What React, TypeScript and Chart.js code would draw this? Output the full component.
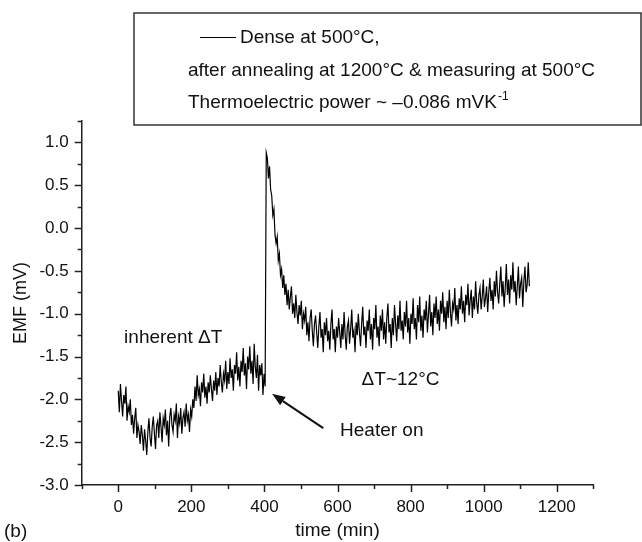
import React, { useEffect, useRef } from 'react';
import { Chart, registerables } from 'chart.js';

Chart.register(...registerables);

const FONT = '"Liberation Sans", Arial, Helvetica, sans-serif';

// EMF readings (mV), one every SAMPLE_STEP_MIN minutes starting at t = 0
const SAMPLE_STEP_MIN = 3;
const emfValues: number[] = [
  -1.90, -2.15, -1.82, -2.02, -2.20, -1.95, -2.05, -1.85, -2.25, -2.08,
  -2.15, -2.00, -2.30, -2.18, -2.40, -2.22, -2.10, -2.45, -2.30, -2.38,
  -2.52, -2.30, -2.42, -2.60, -2.35, -2.48, -2.65, -2.38, -2.22, -2.45,
  -2.55, -2.32, -2.20, -2.40, -2.58, -2.30, -2.25, -2.45, -2.15, -2.32,
  -2.50, -2.22, -2.30, -2.12, -2.42, -2.25, -2.55, -2.20, -2.10, -2.30,
  -2.38, -2.18, -2.25, -2.05, -2.45, -2.20, -2.28, -2.10, -2.40, -2.22,
  -2.15, -2.32, -2.05, -2.25, -2.18, -2.38, -2.12, -2.20, -2.00, -2.10,
  -1.85, -2.02, -1.72, -1.95, -1.88, -2.08, -1.80, -1.92, -1.70, -1.98,
  -1.85, -2.05, -1.80, -1.92, -1.72, -1.88, -2.02, -1.78, -1.90, -1.68,
  -1.95, -1.75, -1.85, -1.60, -1.80, -1.92, -1.70, -1.78, -1.55, -1.88,
  -1.68, -1.82, -1.52, -1.75, -1.65, -1.90, -1.60, -1.70, -1.45, -1.78,
  -1.62, -1.85, -1.55, -1.68, -1.40, -1.72, -1.58, -1.88, -1.50, -1.65,
  -1.38, -1.70, -1.55, -1.82, -1.35, -1.62, -1.75, -1.48, -1.90, -1.60,
  -1.72, -1.58, -1.95, -1.70, -1.85, 0.88, 0.82, 0.58, 0.72, 0.45,
  0.38, 0.15, 0.22, -0.08, -0.18, -0.10, -0.38, -0.30, -0.55, -0.48,
  -0.70, -0.55, -0.78, -0.65, -0.90, -0.72, -0.95, -0.80, -0.68, -1.00,
  -0.88, -1.05, -0.78, -0.98, -1.12, -0.90, -1.02, -0.85, -1.18, -1.00,
  -1.08, -0.92, -1.25, -1.10, -1.32, -1.05, -0.95, -1.20, -1.38, -1.12,
  -1.02, -1.22, -1.40, -1.15, -0.98, -1.28, -1.18, -1.45, -1.10, -1.25,
  -1.05, -1.32, -1.20, -1.42, -1.12, -0.95, -1.30, -1.18, -1.45, -1.15,
  -1.28, -1.05, -1.22, -1.40, -1.12, -1.30, -0.98, -1.25, -1.42, -1.15,
  -1.08, -1.35, -1.18, -0.95, -1.28, -1.20, -1.45, -1.10, -1.25, -1.00,
  -1.22, -1.38, -1.12, -0.92, -1.25, -1.15, -1.40, -1.08, -1.20, -0.95,
  -1.30, -1.12, -1.42, -1.05, -1.18, -0.90, -1.28, -1.15, -1.38, -1.02,
  -1.20, -0.95, -1.30, -1.10, -1.35, -1.05, -0.88, -1.22, -1.12, -1.40,
  -1.05, -1.25, -0.90, -1.12, -1.32, -1.02, -1.18, -0.85, -1.20, -1.08,
  -1.30, -0.98, -1.15, -0.85, -1.22, -1.05, -1.35, -1.00, -1.12, -0.82,
  -1.18, -1.05, -1.30, -0.90, -1.10, -0.80, -1.20, -1.02, -1.28, -0.95,
  -1.08, -0.85, -1.22, -1.00, -0.78, -1.15, -0.98, -1.25, -0.88, -1.05,
  -0.80, -1.12, -0.95, -1.20, -0.85, -1.00, -0.75, -1.10, -0.92, -1.18,
  -0.85, -1.05, -0.72, -0.98, -1.15, -0.88, -0.95, -0.70, -1.08, -0.90,
  -1.12, -0.82, -0.95, -0.68, -1.00, -0.85, -1.10, -0.78, -0.90, -0.65,
  -1.02, -0.85, -0.72, -1.05, -0.80, -0.95, -0.62, -0.88, -1.00, -0.78,
  -0.70, -0.95, -0.80, -0.60, -0.92, -0.82, -0.68, -0.98, -0.75, -0.58,
  -0.85, -0.72, -0.95, -0.62, -0.80, -0.50, -0.75, -0.88, -0.65, -0.45,
  -0.80, -0.62, -0.92, -0.70, -0.42, -0.78, -0.60, -0.88, -0.55, -0.72,
  -0.40, -0.75, -0.62, -0.90, -0.68, -0.45, -0.82, -0.65, -0.58, -0.92,
  -0.62, -0.45, -0.75, -0.66, -0.40, -0.68,
];
const timeMin: number[] = emfValues.map((_, i) => i * SAMPLE_STEP_MIN);

// axes
const X_MIN = -100;
const X_MAX = 1300;
const X_MINOR_STEP = 100;
const X_MAJOR_STEP = 200;
const Y_MIN = -3.0;
const Y_MAX = 1.25;
const Y_MINOR_STEP = 0.25;
const Y_MAJOR_STEP = 0.5;

const xTitle = 'time (min)';
const yTitle = 'EMF (mV)';
const panelLabel = '(b)';

const legendLine1 = 'Dense at 500°C,';
const legendLine2 = 'after annealing at 1200°C & measuring at 500°C';
const legendLine3 = 'Thermoelectric power ~ \u20130.086 mVK';
const legendLine3Sup = '-1';

// annotations, in data coordinates (t in min, v in mV)
const notes = [
  { text: 'inherent \u0394T', t: 16, v: -1.34 },
  { text: '\u0394T~12°C', t: 666, v: -1.83 },
  { text: 'Heater on', t: 607, v: -2.43 },
];
const arrowFrom = { t: 561, v: -2.336 };
const arrowTo = { t: 421, v: -1.936 };

const TEXT_SIZE = 19;

const isMultiple = (v: number, step: number) =>
  Math.abs(v / step - Math.round(v / step)) < 1e-6;

const decorPlugin = {
  id: 'decor',
  afterDraw(chart: any) {
    const { ctx, chartArea, scales } = chart;
    const xs = scales.x;
    const ys = scales.y;
    ctx.save();
    // tick marks
    ctx.strokeStyle = '#222';
    ctx.lineWidth = 1.5;
    xs.ticks.forEach((tk: any) => {
      const px = Math.round(xs.getPixelForValue(tk.value)) + 0.5;
      const len = isMultiple(tk.value, X_MAJOR_STEP) ? 7 : 4;
      ctx.beginPath();
      ctx.moveTo(px, chartArea.bottom);
      ctx.lineTo(px, chartArea.bottom + len);
      ctx.stroke();
    });
    ys.ticks.forEach((tk: any) => {
      const py = Math.round(ys.getPixelForValue(tk.value)) + 0.5;
      const len = isMultiple(tk.value, Y_MAJOR_STEP) ? 7 : 4;
      ctx.beginPath();
      ctx.moveTo(chartArea.left - len, py);
      ctx.lineTo(chartArea.left, py);
      ctx.stroke();
    });

    // annotations
    ctx.fillStyle = '#111';
    ctx.font = `${TEXT_SIZE}px ${FONT}`;
    ctx.textAlign = 'left';
    ctx.textBaseline = 'alphabetic';
    notes.forEach((n) => {
      ctx.fillText(n.text, xs.getPixelForValue(n.t), ys.getPixelForValue(n.v));
    });

    // arrow
    const x1 = xs.getPixelForValue(arrowFrom.t);
    const y1 = ys.getPixelForValue(arrowFrom.v);
    const x2 = xs.getPixelForValue(arrowTo.t);
    const y2 = ys.getPixelForValue(arrowTo.v);
    const ang = Math.atan2(y2 - y1, x2 - x1);
    const headLen = 13;
    const headHalf = 5;
    const bx = x2 - headLen * Math.cos(ang);
    const by = y2 - headLen * Math.sin(ang);
    ctx.strokeStyle = '#111';
    ctx.lineWidth = 2;
    ctx.beginPath();
    ctx.moveTo(x1, y1);
    ctx.lineTo(bx, by);
    ctx.stroke();
    ctx.beginPath();
    ctx.moveTo(x2, y2);
    ctx.lineTo(bx + headHalf * Math.sin(ang), by - headHalf * Math.cos(ang));
    ctx.lineTo(bx - headHalf * Math.sin(ang), by + headHalf * Math.cos(ang));
    ctx.closePath();
    ctx.fillStyle = '#111';
    ctx.fill();

    // legend box
    const bxL = 134, bxT = 13, bxR = 641, bxB = 125;
    ctx.fillStyle = '#fff';
    ctx.fillRect(bxL, bxT, bxR - bxL, bxB - bxT);
    ctx.strokeStyle = '#333';
    ctx.lineWidth = 1.5;
    ctx.strokeRect(bxL, bxT, bxR - bxL, bxB - bxT);
    ctx.strokeStyle = '#000';
    ctx.lineWidth = 1;
    ctx.beginPath();
    ctx.moveTo(200, 37.5);
    ctx.lineTo(236, 37.5);
    ctx.stroke();
    ctx.fillStyle = '#111';
    ctx.font = `${TEXT_SIZE}px ${FONT}`;
    ctx.fillText(legendLine1, 240, 43);
    ctx.fillText(legendLine2, 188, 76);
    ctx.fillText(legendLine3, 188, 108);
    const w3 = ctx.measureText(legendLine3).width;
    ctx.font = `12px ${FONT}`;
    ctx.fillText(legendLine3Sup, 188 + w3 + 1, 100);

    // panel label
    ctx.font = `${TEXT_SIZE}px ${FONT}`;
    ctx.fillText(panelLabel, 4, 537);
    ctx.restore();
  },
};

export default function App() {
  const canvasRef = useRef<HTMLCanvasElement | null>(null);

  useEffect(() => {
    const canvas = canvasRef.current;
    if (!canvas) return;
    const points = timeMin.map((t, i) => ({ x: t, y: emfValues[i] }));
    const chart = new Chart(canvas, {
      type: 'line',
      data: {
        datasets: [
          {
            label: legendLine1,
            data: points,
            borderColor: '#000',
            borderWidth: 1.2,
            pointRadius: 0,
            tension: 0,
            fill: false,
          },
        ],
      },
      options: {
        responsive: false,
        animation: false,
        events: [],
        layout: { padding: { top: 121, right: 48.7, left: 0, bottom: 0 } },
        plugins: {
          legend: { display: false },
          tooltip: { enabled: false },
          title: { display: false },
        },
        scales: {
          x: {
            type: 'linear',
            min: X_MIN,
            max: X_MAX,
            afterFit: (s: any) => {
              s.height = 57;
            },
            ticks: {
              stepSize: X_MINOR_STEP,
              autoSkip: false,
              maxRotation: 0,
              padding: 12,
              color: '#111',
              font: { family: FONT, size: 17 },
              callback: (v: any) =>
                isMultiple(Number(v), X_MAJOR_STEP) && Number(v) >= 0 ? String(v) : '',
            },
            grid: { display: false, drawTicks: false },
            border: { display: true, color: '#222', width: 1.5 },
            title: {
              display: true,
              text: xTitle,
              color: '#111',
              font: { family: FONT, size: TEXT_SIZE },
              padding: { top: 0, bottom: 0 },
            },
          },
          y: {
            type: 'linear',
            min: Y_MIN,
            max: Y_MAX,
            afterFit: (s: any) => {
              s.width = 81.7;
            },
            ticks: {
              stepSize: Y_MINOR_STEP,
              autoSkip: false,
              padding: 13,
              color: '#111',
              font: { family: FONT, size: 17 },
              callback: (v: any) =>
                isMultiple(Number(v), Y_MAJOR_STEP) ? Number(v).toFixed(1) : '',
            },
            grid: { display: false, drawTicks: false },
            border: { display: true, color: '#222', width: 1.5 },
            title: {
              display: true,
              text: yTitle,
              color: '#111',
              font: { family: FONT, size: 18 },
              padding: { top: 10, bottom: 0 },
            },
          },
        },
      },
      plugins: [decorPlugin],
    });
    return () => chart.destroy();
  }, []);

  return (
    <div style={{ position: 'absolute', left: 0, top: 0, width: 642, height: 542, background: '#fff' }}>
      <canvas ref={canvasRef} width={642} height={542} style={{ width: 642, height: 542, display: 'block' }} />
    </div>
  );
}
